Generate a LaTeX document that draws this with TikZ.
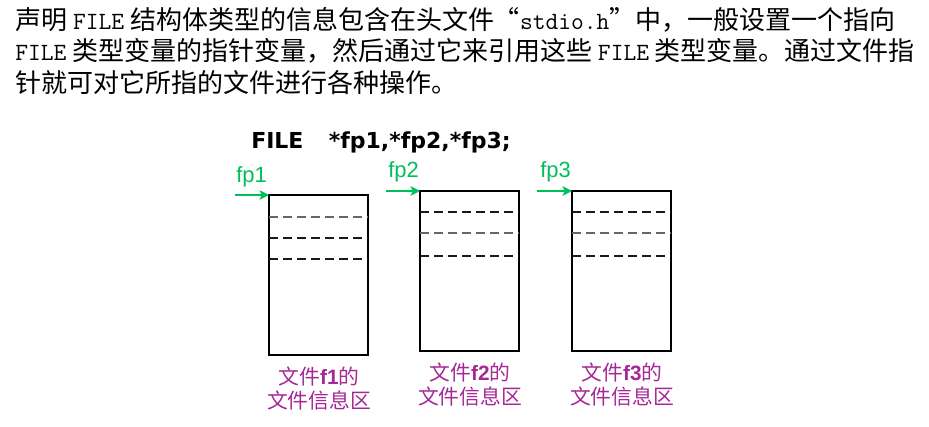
\documentclass[tikz,border=0pt]{standalone}
\usepackage{fontspec}
\usepackage{tikz}
\usetikzlibrary{positioning}
\usetikzlibrary{arrows.meta}
\newfontfamily\cjk{Noto Sans CJK SC}
\newfontfamily\lsans{Liberation Sans}
\newfontfamily\dvsans{DejaVu Sans}
\newcommand{\halfw}[1]{{\fontsize{18.6}{23}\ttfamily #1}}
\definecolor{ptrgreen}{RGB}{0,190,90}
\definecolor{infomagenta}{RGB}{165,40,150}
\pgfdeclarelayer{nodelayer}
\pgfdeclarelayer{edgelayer}
\pgfsetlayers{edgelayer,nodelayer,main}
\tikzstyle{none}=[inner sep=0pt]
\tikzstyle{para}=[inner sep=0pt, anchor=base west, font=\cjk\fontsize{19.5}{23}\selectfont]
\tikzset{filebox/.style={draw=black, line width=1.7pt}}
\tikzset{slot/.style={draw=black!90, line width=1.5pt, dash pattern=on 6.5pt off 4pt}}
\tikzset{slotlight/.style={slot, draw=black!60, line width=1.1pt}}
\tikzset{ptr/.style={draw=ptrgreen, line width=1.6pt, -{Stealth[length=7pt, width=7pt, inset=1.5pt]}}}
\tikzset{ptrname/.style={inner sep=0pt, anchor=base west, text=ptrgreen, font=\lsans\fontsize{16.5}{19}\selectfont}}
\tikzset{decl/.style={inner sep=0pt, anchor=base west, font=\dvsans\bfseries\fontsize{16.5}{19}\selectfont}}
\tikzset{info/.style={inner sep=0pt, anchor=base, align=center, text=infomagenta, font=\cjk\fontsize{15.6}{18}\selectfont}}

\begin{document}
\begin{tikzpicture}[x=0.75pt, y=-0.75pt]
	\useasboundingbox (0,0) rectangle (929,427);
	\begin{pgfonlayer}{nodelayer}
		\node [style=para] (34) at (15, 29.5) {声明 \halfw{FILE} 结构体类型的信息包含在头文件“\halfw{stdio.h}”中，一般设置一个指向};
		\node [style=para] (35) at (15, 61) {\halfw{FILE} 类型变量的指针变量，然后通过它来引用这些 \halfw{FILE} 类型变量。通过文件指};
		\node [style=para] (36) at (15, 92.5) {针就可对它所指的文件进行各种操作。};
		\node [style=decl] (30) at (251, 149) {FILE\hspace{19pt}*fp1,*fp2,*fp3;};
		\node [style=none] (0) at (269, 195) {};
		\node [style=none] (1) at (368, 355) {};
		\node [style=none] (2) at (420, 191) {};
		\node [style=none] (3) at (519, 351) {};
		\node [style=none] (4) at (572, 191) {};
		\node [style=none] (5) at (671, 351) {};
		\node [style=none] (6) at (269, 217) {};
		\node [style=none] (7) at (368, 217) {};
		\node [style=none] (8) at (269, 238) {};
		\node [style=none] (9) at (368, 238) {};
		\node [style=none] (10) at (269, 259) {};
		\node [style=none] (11) at (368, 259) {};
		\node [style=none] (12) at (420, 212) {};
		\node [style=none] (13) at (519, 212) {};
		\node [style=none] (14) at (420, 233) {};
		\node [style=none] (15) at (519, 233) {};
		\node [style=none] (16) at (420, 256) {};
		\node [style=none] (17) at (519, 256) {};
		\node [style=none] (18) at (572, 212) {};
		\node [style=none] (19) at (671, 212) {};
		\node [style=none] (20) at (572, 233) {};
		\node [style=none] (21) at (671, 233) {};
		\node [style=none] (22) at (572, 256) {};
		\node [style=none] (23) at (671, 256) {};
		\node [style=none] (24) at (235, 195) {};
		\node [style=none] (25) at (386, 191) {};
		\node [style=none] (26) at (537, 191) {};
		\node [style=ptrname] (27) at (236, 183) {fp1};
		\node [style=ptrname] (28) at (388, 178) {fp2};
		\node [style=ptrname] (29) at (540, 178) {fp3};
		% base sits on the second line
		\node [style=info] (31) at (319, 409) {文件{\lsans\bfseries f1}的\\文件信息区};
		\node [style=info] (32) at (470, 405) {文件{\lsans\bfseries f2}的\\文件信息区};
		\node [style=info] (33) at (622, 405) {文件{\lsans\bfseries f3}的\\文件信息区};
	\end{pgfonlayer}
	\begin{pgfonlayer}{edgelayer}
		\draw [style=filebox] (0.center) rectangle (1.center);
		\draw [style=filebox] (2.center) rectangle (3.center);
		\draw [style=filebox] (4.center) rectangle (5.center);
		\draw [style=slotlight] (6.center) to (7.center);
		\draw [style=slot] (8.center) to (9.center);
		\draw [style=slot] (10.center) to (11.center);
		\draw [style=slot] (12.center) to (13.center);
		\draw [style=slotlight] (14.center) to (15.center);
		\draw [style=slot] (16.center) to (17.center);
		\draw [style=slot] (18.center) to (19.center);
		\draw [style=slotlight] (20.center) to (21.center);
		\draw [style=slot] (22.center) to (23.center);
		\draw [style=ptr] (24.center) to (0.center);
		\draw [style=ptr] (25.center) to (2.center);
		\draw [style=ptr] (26.center) to (4.center);
	\end{pgfonlayer}
\end{tikzpicture}
\end{document}
